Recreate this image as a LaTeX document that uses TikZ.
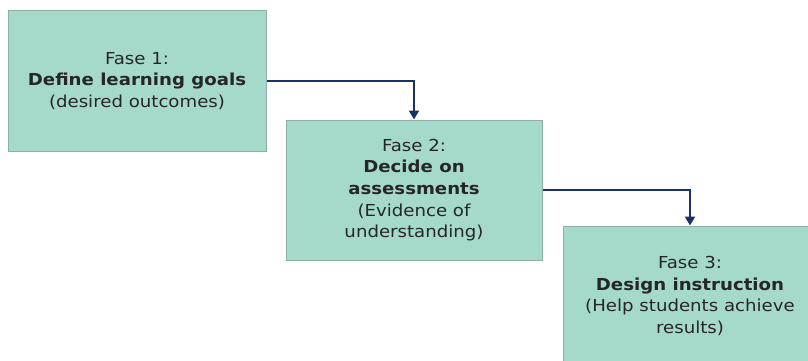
\documentclass[tikz,border=0pt]{standalone}
\usepackage{fontspec}
\setmainfont[FakeStretch=1.1]{DejaVu Sans}
\usetikzlibrary{arrows.meta,positioning}

\definecolor{boxfill}{HTML}{A5DACA}
\definecolor{boxline}{HTML}{8FB0A7}
\definecolor{navy}{HTML}{1B3268}

\begin{document}
\begin{tikzpicture}[x=1pt,y=-1pt,
  fasebox/.style={draw=boxline, fill=boxfill, line width=1pt, minimum height=140pt,
    align=center, inner sep=0pt, text=black!85, font=\fontsize{16.5}{21.7}\selectfont},
  flow/.style={draw=navy, line width=2pt, -{Triangle[width=10pt,length=9pt]}}]

\clip (0,0) rectangle (808,361);

\node[fasebox, minimum width=258pt] (fase1) at (137,81)
 {Fase 1:\\\textbf{Define learning goals}\\(desired outcomes)};
\node[fasebox, minimum width=256pt] (fase2) at (414,190)
 {Fase 2:\\\textbf{Decide on}\\\textbf{assessments}\\(Evidence of\\understanding)};
\node[fasebox, minimum width=254pt] (fase3) at (690,296)
 {Fase 3:\\\textbf{Design instruction}\\(Help students achieve\\results)};

\draw[flow] (fase1.east) -| (fase2.north);
\draw[flow] (fase2.east) -| (fase3.north);
\end{tikzpicture}
\end{document}
